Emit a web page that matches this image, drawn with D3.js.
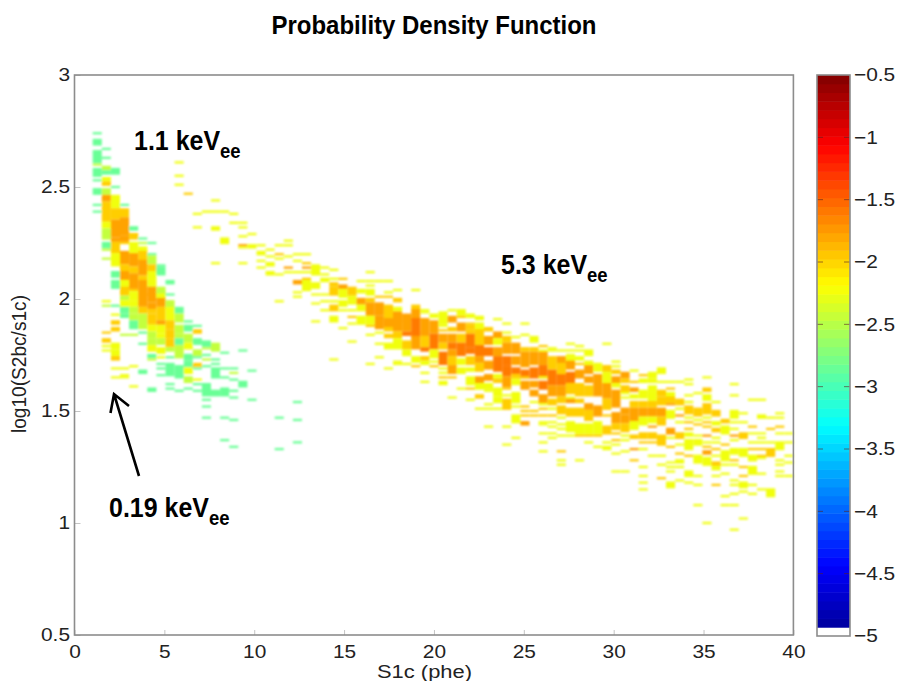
<!doctype html>
<html lang="en">
<head>
<meta charset="UTF-8">
<title>Probability Density Function</title>
<style>
html, body { margin: 0; padding: 0; background: #fff; }
svg { display: block; font-family: "Liberation Sans", Arial, sans-serif; }
.axis path { display: none; }
.axis line { stroke: #c4c4c4; }
.axis text { font-size: 18.5px; fill: #222; }
.spine { fill: none; stroke: #8c8c8c; stroke-width: 1.6; }
</style>
</head>
<body>
<script src="https://cdn.jsdelivr.net/npm/d3@7"></script>
<script>
// log10 density levels
var g = -2.85, l = -2.45, y = -2.25, a = -1.97, o = -1.78, r = -1.6;

var xTicks = [0, 5, 10, 15, 20, 25, 30, 35, 40];
var yTicks = [0.5, 1, 1.5, 2, 2.5, 3];
var barTicks = [-5, -4.5, -4, -3.5, -3, -2.5, -2, -1.5, -1, -0.5];

// columns: [bin index, [top log10, bottom log10, level], ...], one bin = 40/79 phe, one row = 0.01
var lowEnergyCells = [
  [2, [2.74,2.74,g],[2.71,2.69,g],[2.66,2.61,g],[2.60,2.60,l],[2.58,2.55,g],[2.53,2.53,g],[2.49,2.47,g],[2.42,2.42,g],[2.39,2.39,g]],
  [3, [2.67,2.67,g],[2.63,2.63,g],[2.59,2.58,l],[2.57,2.56,g],[2.54,2.53,y],[2.52,2.51,a],[2.49,2.47,l],[2.46,2.44,o],[2.43,2.35,a],[2.34,2.32,y],[2.31,2.27,l],[2.25,2.23,g],[2.22,2.22,l],[2.18,2.18,l],[1.99,1.99,y],[1.97,1.97,l],[1.85,1.85,a],[1.82,1.81,a],[1.79,1.79,y],[1.77,1.77,y]],
  [4, [2.58,2.56,g],[2.50,2.50,g],[2.46,2.41,y],[2.40,2.36,a],[2.35,2.28,o],[2.27,2.26,o],[2.25,2.21,a],[2.20,2.15,y],[2.12,2.10,g],[2.08,2.05,g],[1.97,1.97,g],[1.93,1.93,y],[1.90,1.89,a],[1.87,1.86,a],[1.80,1.78,y],[1.77,1.75,y],[1.74,1.73,a],[1.69,1.69,y],[1.65,1.65,y]],
  [5, [2.42,2.42,g],[2.40,2.37,a],[2.36,2.29,o],[2.28,2.26,o],[2.25,2.25,a],[2.21,2.16,o],[2.15,2.13,a],[2.12,2.09,o],[2.08,2.05,y],[2.05,2.02,a],[2.01,2.00,l],[1.99,1.97,y],[1.96,1.94,g],[1.93,1.92,g],[1.84,1.84,l],[1.69,1.69,y],[1.66,1.66,y],[1.65,1.65,y]],
  [6, [2.32,2.31,g],[2.29,2.27,a],[2.25,2.21,y],[2.20,2.15,o],[2.14,2.12,a],[2.11,2.05,o],[2.04,2.04,a],[2.03,2.00,y],[1.99,1.97,y],[1.96,1.94,l],[1.93,1.91,l],[1.90,1.87,g],[1.84,1.84,l],[1.70,1.70,y],[1.61,1.61,y]],
  [7, [2.27,2.27,g],[2.25,2.25,l],[2.23,2.21,y],[2.21,2.17,a],[2.17,2.11,o],[2.10,2.09,a],[2.08,1.97,o],[1.96,1.94,a],[1.93,1.87,l],[1.85,1.85,g],[1.80,1.80,g],[1.68,1.67,g]],
  [8, [2.25,2.25,g],[2.20,2.20,g],[2.19,2.16,l],[2.15,2.12,a],[2.12,2.09,y],[2.08,2.06,y],[2.05,2.02,o],[2.02,1.99,o],[1.98,1.96,o],[1.95,1.94,a],[1.93,1.89,a],[1.88,1.86,y],[1.85,1.83,l],[1.82,1.80,l],[1.79,1.77,y],[1.75,1.74,g],[1.73,1.73,l],[1.60,1.59,g]],
  [9, [2.15,2.15,g],[2.14,2.11,g],[2.05,2.03,l],[2.03,2.01,l],[2.02,2.01,y],[2.00,1.97,o],[1.96,1.91,a],[1.90,1.89,o],[1.88,1.85,y],[1.84,1.83,y],[1.82,1.80,l],[1.78,1.76,y],[1.74,1.74,y],[1.71,1.71,g],[1.69,1.69,g],[1.66,1.66,g]],
  [10, [2.08,2.07,g],[2.02,2.02,g],[1.99,1.96,l],[1.96,1.91,y],[1.90,1.87,a],[1.86,1.83,a],[1.82,1.79,a],[1.78,1.77,l],[1.74,1.74,g],[1.71,1.67,g],[1.66,1.66,g],[1.62,1.62,g],[1.60,1.60,g]],
  [11, [1.96,1.94,g],[1.93,1.90,l],[1.88,1.85,l],[1.84,1.83,l],[1.82,1.80,g],[1.79,1.74,l],[1.70,1.65,g],[1.59,1.59,g]],
  [12, [1.90,1.90,g],[1.88,1.86,g],[1.84,1.81,l],[1.80,1.78,y],[1.75,1.73,g],[1.72,1.70,g],[1.69,1.67,y],[1.65,1.63,l],[1.60,1.60,g]],
  [13, [1.88,1.88,g],[1.86,1.85,a],[1.82,1.80,g],[1.77,1.75,l],[1.74,1.74,g],[1.71,1.70,a],[1.69,1.69,g],[1.64,1.64,y],[1.62,1.62,g],[1.59,1.59,g]],
  [14, [1.81,1.79,g],[1.78,1.78,l],[1.75,1.75,g],[1.73,1.73,l],[1.70,1.70,g],[1.62,1.57,g],[1.55,1.55,g],[1.52,1.52,g],[1.47,1.47,g]],
  [15, [1.80,1.77,l],[1.73,1.73,g],[1.71,1.71,g],[1.69,1.65,g],[1.59,1.57,g]],
  [16, [1.76,1.76,g],[1.69,1.69,g],[1.65,1.65,g],[1.60,1.57,g],[1.47,1.47,g],[1.37,1.37,g]],
  [17, [1.69,1.69,g],[1.67,1.67,l],[1.64,1.64,g],[1.59,1.59,g],[1.56,1.56,g],[1.46,1.46,g],[1.34,1.34,g]],
  [18, [1.77,1.77,g],[1.63,1.61,g]],
  [19, [1.68,1.68,g],[1.55,1.55,g]],
  [22, [1.47,1.47,g],[1.33,1.33,g]],
  [24, [1.54,1.54,g],[1.46,1.46,g],[1.36,1.36,g]]
];

var highEnergyCells = [
  [11, [2.61,2.61,y],[2.55,2.55,y],[2.51,2.51,y]],
  [12, [2.47,2.47,a]],
  [13, [2.38,2.38,y],[2.32,2.32,y]],
  [14, [2.39,2.39,y]],
  [15, [2.44,2.44,y],[2.39,2.39,y],[2.32,2.31,y],[2.16,2.16,y]],
  [16, [2.39,2.39,y],[2.27,2.25,y]],
  [17, [2.38,2.38,y],[2.34,2.34,y]],
  [18, [2.34,2.34,y],[2.32,2.32,y],[2.28,2.28,y],[2.24,2.24,o],[2.23,2.23,y],[2.16,2.16,y]],
  [19, [2.29,2.29,y],[2.24,2.23,y]],
  [20, [2.24,2.24,y],[2.21,2.20,y],[2.17,2.17,y],[2.14,2.14,y]],
  [21, [2.22,2.22,y],[2.19,2.19,y],[2.16,2.15,y],[2.12,2.11,y]],
  [22, [2.24,2.24,y],[2.20,2.20,a],[2.18,2.18,y],[2.11,2.11,y],[1.99,1.99,y]],
  [23, [2.26,2.26,y],[2.24,2.24,y],[2.19,2.19,y],[2.14,2.14,o],[2.12,2.12,y]],
  [24, [2.20,2.20,y],[2.17,2.17,y],[2.12,2.12,y],[2.08,2.07,o],[2.03,2.03,y],[2.01,2.01,y]],
  [25, [2.20,2.20,y],[2.16,2.16,a],[2.14,2.14,o],[2.12,2.12,y],[2.09,2.09,a],[2.08,2.04,y]],
  [26, [2.15,2.11,y],[2.07,2.05,y],[2.02,2.02,y],[1.98,1.98,y],[1.90,1.90,y]],
  [27, [2.14,2.14,y],[2.11,2.11,y],[2.09,2.08,y],[2.02,2.02,y],[1.99,1.99,y],[1.95,1.95,y]],
  [28, [2.13,2.13,y],[2.09,2.09,y],[2.07,2.06,a],[2.05,2.02,a],[1.99,1.99,y],[1.97,1.95,a],[1.92,1.90,y],[1.73,1.73,y]],
  [29, [2.09,2.09,a],[2.06,2.05,o],[2.04,2.01,y],[1.99,1.97,y],[1.95,1.95,y],[1.87,1.87,y]],
  [30, [2.05,2.02,a],[2.01,2.00,y],[1.99,1.98,y],[1.95,1.95,y],[1.92,1.92,a],[1.89,1.89,y],[1.81,1.81,y]],
  [31, [2.08,2.08,y],[2.04,2.03,y],[2.00,1.98,o],[1.97,1.95,y],[1.92,1.89,y]],
  [32, [2.12,2.12,y],[2.08,2.08,y],[2.06,2.06,y],[2.04,2.02,y],[2.00,1.99,a],[1.98,1.93,o],[1.92,1.89,y],[1.88,1.88,a],[1.84,1.84,y],[1.71,1.71,y]],
  [33, [2.08,2.08,y],[2.01,2.01,a],[1.98,1.93,o],[1.92,1.87,o],[1.85,1.85,y],[1.80,1.80,y],[1.74,1.74,y]],
  [34, [2.08,2.08,y],[2.03,2.03,y],[2.01,2.01,a],[1.97,1.92,a],[1.91,1.88,o],[1.87,1.86,a],[1.84,1.83,a],[1.80,1.78,y],[1.69,1.69,y]],
  [35, [2.04,2.04,y],[2.00,1.99,a],[1.96,1.95,y],[1.94,1.90,o],[1.90,1.86,o],[1.85,1.83,a],[1.82,1.78,y],[1.72,1.72,y],[1.71,1.71,y]],
  [36, [1.93,1.86,o],[1.85,1.84,r],[1.81,1.78,a],[1.77,1.75,y],[1.71,1.71,y]],
  [37, [2.04,2.04,y],[1.97,1.95,a],[1.95,1.91,o],[1.91,1.85,r],[1.85,1.83,r],[1.83,1.78,o],[1.74,1.72,y],[1.70,1.70,a]],
  [38, [1.95,1.95,y],[1.94,1.94,y],[1.91,1.84,o],[1.83,1.79,a],[1.78,1.77,r],[1.74,1.73,a],[1.72,1.71,y],[1.67,1.67,y],[1.63,1.63,y]],
  [39, [1.93,1.92,y],[1.90,1.85,o],[1.84,1.78,r],[1.77,1.74,y],[1.72,1.72,y],[1.70,1.70,a]],
  [40, [1.94,1.92,y],[1.91,1.89,y],[1.88,1.88,y],[1.86,1.86,a],[1.84,1.81,o],[1.80,1.78,a],[1.76,1.71,r],[1.69,1.69,y],[1.67,1.67,y],[1.65,1.65,a],[1.63,1.62,y]],
  [41, [1.95,1.95,y],[1.92,1.90,o],[1.87,1.86,a],[1.84,1.81,o],[1.80,1.78,r],[1.77,1.75,o],[1.74,1.71,a],[1.70,1.67,o],[1.65,1.65,a],[1.56,1.56,y]],
  [42, [1.95,1.93,y],[1.92,1.92,a],[1.89,1.86,o],[1.84,1.81,a],[1.80,1.75,r],[1.73,1.71,y],[1.69,1.67,y],[1.60,1.60,y]],
  [43, [1.93,1.92,y],[1.89,1.89,a],[1.88,1.87,a],[1.86,1.85,a],[1.84,1.79,r],[1.78,1.76,r],[1.74,1.71,a],[1.69,1.68,y],[1.65,1.62,y],[1.60,1.60,a],[1.55,1.55,y]],
  [44, [1.92,1.91,y],[1.89,1.86,y],[1.86,1.80,a],[1.79,1.75,r],[1.74,1.72,o],[1.71,1.68,a],[1.65,1.63,o],[1.62,1.60,y],[1.57,1.56,a],[1.51,1.51,y]],
  [45, [1.87,1.86,a],[1.83,1.80,o],[1.78,1.75,r],[1.72,1.69,o],[1.66,1.64,o],[1.62,1.60,y],[1.59,1.59,y],[1.53,1.53,y],[1.51,1.51,y],[1.43,1.43,y]],
  [46, [1.91,1.91,y],[1.85,1.83,o],[1.82,1.80,y],[1.78,1.75,o],[1.74,1.68,r],[1.66,1.65,y],[1.64,1.63,a],[1.60,1.57,y],[1.56,1.54,y],[1.51,1.51,y]],
  [47, [1.89,1.89,y],[1.85,1.85,y],[1.83,1.81,a],[1.80,1.76,o],[1.74,1.71,r],[1.70,1.66,r],[1.65,1.61,o],[1.60,1.60,a],[1.57,1.57,y],[1.55,1.51,a],[1.43,1.43,y],[1.35,1.35,y]],
  [48, [1.83,1.83,y],[1.80,1.76,o],[1.74,1.71,o],[1.69,1.67,r],[1.66,1.65,a],[1.64,1.62,y],[1.58,1.54,y],[1.54,1.54,y],[1.52,1.52,y],[1.48,1.45,y],[1.38,1.38,y]],
  [49, [1.89,1.89,y],[1.84,1.84,y],[1.78,1.77,a],[1.76,1.70,o],[1.68,1.65,r],[1.65,1.65,a],[1.63,1.60,o],[1.52,1.52,a],[1.50,1.50,a],[1.48,1.48,a],[1.45,1.44,o]],
  [50, [1.83,1.81,y],[1.78,1.77,a],[1.76,1.71,o],[1.69,1.65,r],[1.63,1.61,o],[1.59,1.57,o],[1.54,1.54,y],[1.50,1.50,a],[1.48,1.48,a]],
  [51, [1.79,1.79,a],[1.77,1.77,y],[1.76,1.71,o],[1.70,1.65,r],[1.65,1.65,y],[1.63,1.60,r],[1.57,1.54,o],[1.53,1.53,y],[1.51,1.51,a],[1.48,1.48,a],[1.45,1.45,y],[1.44,1.44,y],[1.40,1.40,y],[1.36,1.36,y],[1.32,1.32,y]],
  [52, [1.78,1.78,y],[1.77,1.77,y],[1.74,1.69,a],[1.68,1.62,r],[1.61,1.57,o],[1.55,1.53,a],[1.51,1.51,y],[1.48,1.48,a],[1.45,1.45,y],[1.43,1.43,y],[1.40,1.40,y],[1.38,1.38,y]],
  [53, [1.77,1.77,y],[1.74,1.71,o],[1.71,1.67,a],[1.66,1.62,r],[1.61,1.57,o],[1.56,1.54,a],[1.52,1.49,a],[1.47,1.47,y],[1.44,1.44,y],[1.42,1.42,y],[1.39,1.39,y],[1.32,1.32,a],[1.28,1.28,y],[1.26,1.26,y]],
  [54, [1.80,1.80,y],[1.77,1.77,y],[1.75,1.75,y],[1.74,1.72,y],[1.72,1.69,o],[1.67,1.63,r],[1.62,1.58,a],[1.56,1.56,y],[1.55,1.54,o],[1.51,1.48,a],[1.45,1.41,y],[1.39,1.39,y]],
  [55, [1.79,1.79,y],[1.77,1.77,y],[1.74,1.73,y],[1.71,1.71,a],[1.68,1.65,o],[1.62,1.57,a],[1.55,1.54,a],[1.51,1.48,a],[1.44,1.40,y],[1.39,1.39,a],[1.28,1.28,y]],
  [56, [1.77,1.75,y],[1.72,1.71,y],[1.70,1.67,o],[1.65,1.63,o],[1.61,1.57,a],[1.53,1.51,o],[1.50,1.46,a],[1.44,1.40,y],[1.39,1.39,a],[1.36,1.36,y]],
  [57, [1.71,1.68,y],[1.66,1.63,o],[1.62,1.57,o],[1.52,1.48,o],[1.45,1.40,y],[1.39,1.39,a],[1.34,1.34,y]],
  [58, [1.80,1.80,y],[1.70,1.68,a],[1.67,1.63,y],[1.62,1.56,o],[1.55,1.51,a],[1.48,1.48,a],[1.43,1.40,a],[1.36,1.36,y],[1.34,1.34,y],[1.33,1.33,y]],
  [59, [1.72,1.72,y],[1.70,1.70,y],[1.68,1.67,a],[1.65,1.63,o],[1.62,1.61,y],[1.59,1.52,o],[1.49,1.45,o],[1.44,1.42,a],[1.40,1.40,a],[1.37,1.37,a],[1.35,1.35,y],[1.31,1.31,y],[1.23,1.23,y]],
  [60, [1.67,1.65,o],[1.64,1.63,a],[1.61,1.59,a],[1.58,1.58,y],[1.56,1.56,y],[1.51,1.49,o],[1.48,1.45,o],[1.44,1.41,a],[1.39,1.39,y],[1.37,1.37,y],[1.32,1.32,y],[1.23,1.23,y]],
  [61, [1.68,1.68,y],[1.63,1.63,a],[1.60,1.59,o],[1.57,1.56,y],[1.54,1.52,a],[1.51,1.45,o],[1.45,1.42,y],[1.39,1.38,a],[1.33,1.33,o],[1.28,1.28,a]],
  [62, [1.66,1.66,a],[1.64,1.63,y],[1.59,1.56,y],[1.54,1.52,a],[1.51,1.48,o],[1.47,1.44,y],[1.40,1.38,a],[1.36,1.36,a],[1.33,1.33,y],[1.25,1.25,y],[1.21,1.21,y],[1.18,1.18,y],[1.15,1.15,y]],
  [63, [1.67,1.65,y],[1.64,1.63,y],[1.61,1.59,y],[1.58,1.55,y],[1.54,1.52,a],[1.51,1.48,o],[1.47,1.45,y],[1.43,1.43,o],[1.40,1.38,a],[1.36,1.36,a],[1.30,1.30,y]],
  [64, [1.69,1.67,y],[1.63,1.63,y],[1.59,1.57,a],[1.56,1.53,a],[1.51,1.48,o],[1.47,1.44,a],[1.39,1.35,a],[1.30,1.30,y],[1.26,1.26,y],[1.20,1.20,a]],
  [65, [1.63,1.63,y],[1.60,1.60,a],[1.58,1.56,y],[1.56,1.54,a],[1.53,1.53,o],[1.50,1.47,y],[1.42,1.40,o],[1.38,1.38,y],[1.34,1.34,a],[1.27,1.27,y],[1.25,1.25,y],[1.23,1.23,y],[1.18,1.16,y]],
  [66, [1.63,1.63,y],[1.55,1.53,a],[1.51,1.51,y],[1.48,1.48,o],[1.45,1.45,y],[1.40,1.38,a],[1.35,1.35,y],[1.31,1.31,a],[1.28,1.27,y],[1.25,1.25,y],[1.19,1.19,y]],
  [67, [1.64,1.64,y],[1.62,1.62,y],[1.57,1.57,y],[1.54,1.54,y],[1.52,1.49,a],[1.47,1.47,y],[1.45,1.45,a],[1.42,1.42,a],[1.40,1.39,y],[1.37,1.33,y],[1.30,1.30,a],[1.23,1.21,y],[1.18,1.18,y]],
  [68, [1.58,1.58,y],[1.51,1.48,a],[1.46,1.46,y],[1.44,1.44,a],[1.39,1.39,y],[1.37,1.35,y],[1.30,1.27,y],[1.21,1.21,y],[1.17,1.17,y],[1.08,1.08,y]],
  [69, [1.65,1.65,y],[1.60,1.59,a],[1.57,1.55,y],[1.53,1.49,a],[1.47,1.47,y],[1.45,1.45,a],[1.43,1.43,a],[1.39,1.39,o],[1.36,1.36,y],[1.34,1.34,a],[1.32,1.31,o],[1.29,1.26,y],[1.00,1.00,y]],
  [70, [1.54,1.54,y],[1.50,1.48,a],[1.45,1.44,y],[1.42,1.41,a],[1.38,1.38,y],[1.36,1.36,y],[1.33,1.33,a],[1.30,1.30,y],[1.27,1.26,a],[1.25,1.24,y],[1.21,1.21,y],[1.17,1.17,a]],
  [71, [1.46,1.45,a],[1.43,1.40,y],[1.35,1.35,a],[1.32,1.28,y],[1.26,1.26,y],[1.22,1.22,y],[1.12,1.12,y],[1.08,1.08,y]],
  [72, [1.62,1.62,y],[1.57,1.57,y],[1.50,1.47,y],[1.45,1.45,y],[1.42,1.42,y],[1.39,1.39,o],[1.37,1.37,y],[1.33,1.31,y],[1.28,1.28,a],[1.26,1.26,y],[1.19,1.19,y],[1.17,1.17,y],[1.13,1.13,y],[1.08,1.08,y],[0.97,0.97,y]],
  [73, [1.49,1.49,y],[1.45,1.45,y],[1.40,1.38,a],[1.33,1.30,y],[1.25,1.25,a],[1.21,1.21,a],[1.18,1.16,y],[1.14,1.14,y],[1.02,1.02,y]],
  [74, [1.55,1.55,y],[1.43,1.43,a],[1.40,1.40,y],[1.36,1.36,y],[1.33,1.33,a],[1.30,1.28,y],[1.25,1.22,y],[1.17,1.17,y],[1.13,1.13,y]],
  [75, [1.55,1.55,y],[1.48,1.47,y],[1.40,1.40,y],[1.38,1.38,y],[1.36,1.36,y],[1.33,1.33,a],[1.30,1.30,a],[1.29,1.29,y],[1.22,1.22,y],[1.15,1.15,y]],
  [76, [1.47,1.47,y],[1.42,1.42,a],[1.36,1.36,y],[1.33,1.30,a],[1.15,1.12,y]],
  [77, [1.49,1.49,y],[1.47,1.47,y],[1.43,1.43,a],[1.40,1.40,y],[1.36,1.33,y],[1.28,1.28,y],[1.26,1.26,y],[1.23,1.23,y],[1.21,1.21,y]],
  [78, [1.40,1.40,y],[1.36,1.36,y],[1.30,1.30,y],[1.27,1.27,y],[1.21,1.21,y]]
];

var width = 898, height = 681;
var left = 74.5, right = 793.4, top_ = 75, bottom = 635;
var barLeft = 817, barRight = 850, barTop = 75, barBottom = 636;
var binWidth = 40 / 79, rowStep = 0.01;

var x = d3.scaleLinear().domain([0, 40]).range([left, right]);
var yS = d3.scaleLinear().domain([0.5, 3]).range([bottom, top_]);
var barY = d3.scaleLinear().domain([-5, -0.5]).range([barBottom, barTop]);

// jet colormap, 64 steps, lowest step white
var jet = d3.scaleLinear()
  .domain([0, 0.125, 0.375, 0.625, 0.875, 1])
  .range(["#00008f", "#0000ff", "#00ffff", "#ffff00", "#ff0000", "#800000"])
  .clamp(true);
function color(v) { return jet((v + 5) / 4.5); }

var svg = d3.select("body").append("svg").attr("width", width).attr("height", height);

var defs = svg.append("defs");
defs.append("filter").attr("id", "soft").attr("x", "-2%").attr("y", "-2%").attr("width", "104%").attr("height", "104%")
  .append("feGaussianBlur").attr("stdDeviation", 0.8);

// flatten the columns into one cell list
var cells = [];
lowEnergyCells.concat(highEnergyCells).forEach(function(col) {
  col.slice(1).forEach(function(run) {
    cells.push({ bin: col[0], top: run[0], bottom: run[1], level: run[2] });
  });
});

svg.append("g").attr("filter", "url(#soft)")
  .selectAll("rect")
  .data(cells)
  .enter()
  .append("rect")
  .attr("x", function(d) { return x(d.bin * binWidth); })
  .attr("width", function(d) { return x((d.bin + 1) * binWidth) - x(d.bin * binWidth); })
  .attr("y", function(d) { return yS(d.top + rowStep / 2); })
  .attr("height", function(d) { return yS(d.bottom - rowStep / 2) - yS(d.top + rowStep / 2); })
  .attr("fill", function(d) { return color(d.level); });

// digits in the picture are a bit wider than they are tall
function stretch(sel, k) {
  sel.selectAll("text").each(function() {
    var t = d3.select(this);
    t.attr("x", +t.attr("x") / k).attr("transform", "scale(" + k + ",1)");
  });
}

var xAxis = svg.append("g").attr("class", "axis").attr("transform", "translate(0," + bottom + ")")
  .call(d3.axisBottom(x).tickValues(xTicks).tickFormat(d3.format("d")).tickSize(-5).tickPadding(10));
xAxis.selectAll("text").attr("dy", "0.71em");
stretch(xAxis, 1.13);

var yAxis = svg.append("g").attr("class", "axis").attr("transform", "translate(" + left + ",0)")
  .call(d3.axisLeft(yS).tickValues(yTicks).tickFormat(function(d) { return d; }).tickSize(-6).tickPadding(4.5));
stretch(yAxis, 1.13);

svg.append("rect").attr("class", "spine")
  .attr("x", left).attr("y", top_).attr("width", right - left).attr("height", bottom - top_);

// colour bar
var barSteps = d3.range(64);
svg.append("g").selectAll("rect")
  .data(barSteps)
  .enter()
  .append("rect")
  .attr("x", barLeft)
  .attr("width", barRight - barLeft)
  .attr("y", function(d) { return barY(-5 + (d + 1) * 4.5 / 64); })
  .attr("height", function() { return barY(-5) - barY(-5 + 4.5 / 64) + 0.5; })
  .attr("fill", function(d) { return d === 0 ? "#fff" : jet((d + 0.5) / 64); });

var barG = svg.append("g").attr("class", "axis").attr("transform", "translate(" + barRight + ",0)")
  .call(d3.axisRight(barY).tickValues(barTicks).tickFormat(function(d) { return "\u2212" + Math.abs(d); }).tickSize(0).tickPadding(4));
stretch(barG, 1.13);

svg.append("g").selectAll("path")
  .data(barTicks.slice(1, -1))
  .enter()
  .append("path")
  .attr("d", function(d) {
    var p = barY(d);
    return "M" + barLeft + "," + p + "h6M" + barRight + "," + p + "h-6";
  })
  .attr("stroke", "#5a2020").attr("stroke-opacity", 0.6).attr("fill", "none");

svg.append("rect").attr("class", "spine").attr("stroke", "#666")
  .attr("x", barLeft).attr("y", barTop).attr("width", barRight - barLeft).attr("height", barBottom - barTop);

// titles
svg.append("text").attr("x", 434).attr("y", 34).attr("text-anchor", "middle")
  .attr("font-size", 25).attr("font-weight", "bold").attr("fill", "#000")
  .attr("textLength", 325).attr("lengthAdjust", "spacingAndGlyphs")
  .text("Probability Density Function");

svg.append("text").attr("x", 424.5).attr("y", 677.5).attr("text-anchor", "middle")
  .attr("font-size", 18).attr("fill", "#222")
  .attr("textLength", 95).attr("lengthAdjust", "spacingAndGlyphs")
  .text("S1c (phe)");

svg.append("text").attr("transform", "translate(26,364) rotate(-90)").attr("text-anchor", "middle")
  .attr("font-size", 20).attr("fill", "#222")
  .attr("textLength", 138).attr("lengthAdjust", "spacingAndGlyphs")
  .text("log10(S2bc/s1c)");

// energy labels, "ee" as a subscript in the same text
var labels = [
  { t: "1.1 keV", px: 134, py: 150, k: 0.925 },
  { t: "5.3 keV", px: 501, py: 274, k: 0.925 },
  { t: "0.19 keV", px: 109, py: 517, k: 0.925 }
];
var lab = svg.append("g").selectAll("text").data(labels).enter().append("text")
  .attr("transform", function(d) { return "translate(" + d.px + "," + d.py + ") scale(" + d.k + ",1)"; })
  .attr("font-size", 27).attr("font-weight", "bold")
  .text(function(d) { return d.t; });
lab.append("tspan").attr("font-size", 20).attr("dy", 8).text("ee");

// arrow to the 0.19 keV population
svg.append("path")
  .attr("d", "M139,476L114,394M110.5,413L114,394L129,406")
  .attr("fill", "none").attr("stroke", "#000").attr("stroke-width", 2.6);
</script>
</body>
</html>
